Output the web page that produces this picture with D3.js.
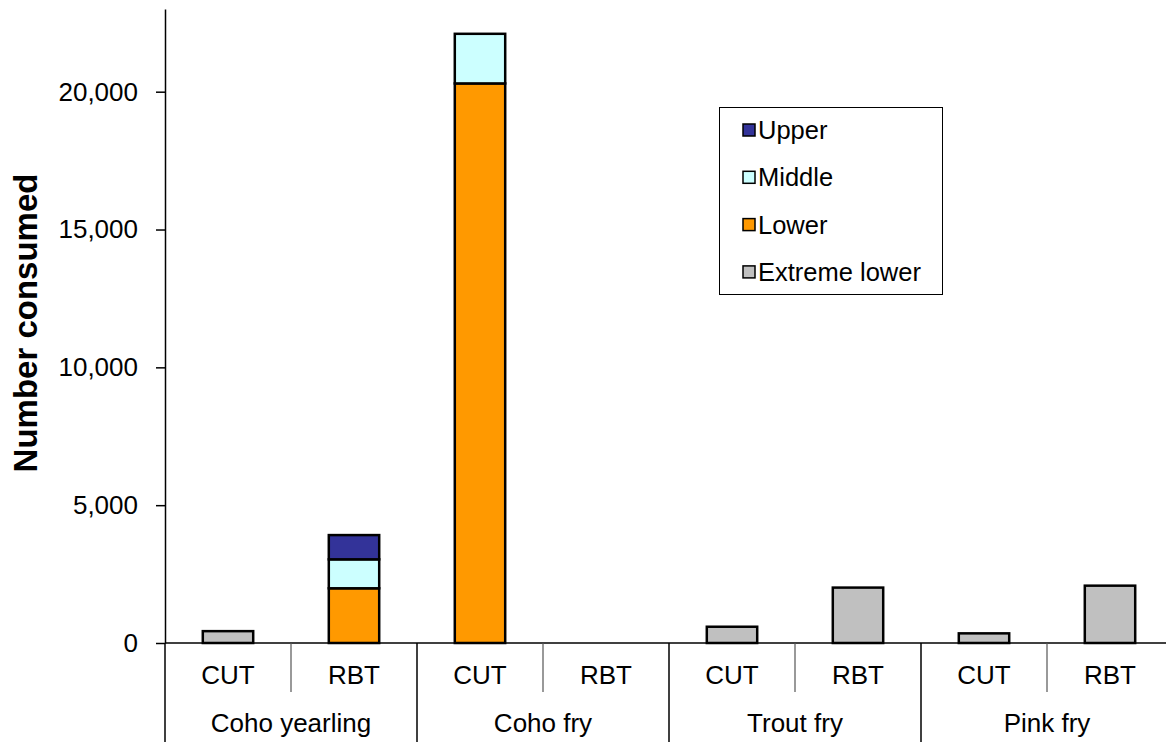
<!DOCTYPE html>
<html>
<head>
<meta charset="utf-8">
<script src="https://cdn.jsdelivr.net/npm/d3@7"></script>
<style>
  body { margin: 0; background: #fff; }
  text { font-family: "Liberation Sans", Arial, sans-serif; }
</style>
</head>
<body>
<div id="chart"></div>
<script>
// data
var groups = ["Coho yearling", "Coho fry", "Trout fry", "Pink fry"];
var species = ["CUT", "RBT"];
var seriesNames = ["Upper", "Middle", "Lower", "Extreme lower"];
var upper        = [0, 880, 0, 0, 0, 0, 0, 0];
var middle       = [0, 1050, 1800, 0, 0, 0, 0, 0];
var lower        = [0, 1985, 20300, 0, 0, 0, 0, 0];
var extremeLower = [430, 0, 0, 0, 590, 2010, 350, 2080];
var yTicks = [0, 5000, 10000, 15000, 20000];

var colors = {
  "Upper": "#333399",
  "Middle": "#ccffff",
  "Lower": "#ff9900",
  "Extreme lower": "#c0c0c0"
};

var width = 1166, height = 742;
var left = 165, right = 1173, zeroY = 643, topY = 9;

var svg = d3.select("#chart").append("svg")
  .attr("width", width)
  .attr("height", height);

// one row per category (group x species)
var rows = [];
groups.forEach(function(g, gi) {
  species.forEach(function(s, si) {
    var i = gi * species.length + si;
    rows.push({
      key: g + "|" + s, group: g, sp: s,
      "Upper": upper[i], "Middle": middle[i],
      "Lower": lower[i], "Extreme lower": extremeLower[i]
    });
  });
});

var xScale = d3.scaleBand()
  .domain(rows.map(function(d) { return d.key; }))
  .range([left, right])
  .paddingInner(0.6)
  .paddingOuter(0.3);

var yScale = d3.scaleLinear()
  .domain([0, 23000])
  .range([zeroY, topY]);

// stack from bottom: extreme lower, lower, middle, upper
var stack = d3.stack().keys(["Extreme lower", "Lower", "Middle", "Upper"]);
var layers = stack(rows);

//////////////////// bars ////////////////////
var layer = svg.selectAll(".layer")
  .data(layers)
  .enter().append("g")
  .attr("class", "layer")
  .attr("fill", function(d) { return colors[d.key]; });

layer.selectAll("rect")
  .data(function(d) { return d.filter(function(v) { return v[1] - v[0] > 0; }); })
  .enter().append("rect")
  .attr("x", function(d) { return xScale(d.data.key); })
  .attr("width", xScale.bandwidth())
  .attr("y", function(d) { return yScale(d[1]); })
  .attr("height", function(d) { return yScale(d[0]) - yScale(d[1]); })
  .attr("stroke", "#000")
  .attr("stroke-width", 2.5);

//////////////////// y axis ////////////////////
var yAxis = svg.append("g")
  .attr("transform", "translate(" + left + ",0)")
  .call(d3.axisLeft(yScale)
    .tickValues(yTicks)
    .tickFormat(d3.format(","))
    .tickSize(9)
    .tickSizeOuter(0)
    .tickPadding(18));

yAxis.select(".domain").attr("stroke", "#000").attr("stroke-width", 1.5);
yAxis.selectAll(".tick line").attr("stroke", "#000").attr("stroke-width", 1.5);
yAxis.selectAll(".tick text")
  .attr("font-size", 26)
  .attr("fill", "#000")
  .style("font-family", "Liberation Sans, Arial, sans-serif");

svg.append("text")
  .attr("transform", "translate(37," + 323 + ") rotate(-90)")
  .attr("text-anchor", "middle")
  .attr("font-size", 33)
  .attr("font-weight", "bold")
  .text("Number consumed");

//////////////////// x axis ////////////////////
svg.append("line")
  .attr("x1", left).attr("x2", right)
  .attr("y1", zeroY).attr("y2", zeroY)
  .attr("stroke", "#000").attr("stroke-width", 1.5);

var step = xScale.step();

// separators between species and groups
d3.range(0, rows.length + 1).forEach(function(i) {
  var isGroup = i % species.length === 0;
  svg.append("line")
    .attr("x1", left + i * step).attr("x2", left + i * step)
    .attr("y1", zeroY).attr("y2", isGroup ? height : 692)
    .attr("stroke", isGroup ? "#000" : "#555")
    .attr("stroke-width", isGroup ? 1.5 : 1.2);
});

svg.selectAll(".spLabel")
  .data(rows)
  .enter().append("text")
  .attr("class", "spLabel")
  .attr("x", function(d) { return xScale(d.key) + xScale.bandwidth() / 2; })
  .attr("y", 684)
  .attr("text-anchor", "middle")
  .attr("font-size", 26)
  .text(function(d) { return d.sp; });

svg.selectAll(".groupLabel")
  .data(groups)
  .enter().append("text")
  .attr("class", "groupLabel")
  .attr("x", function(d, i) { return left + (i + 0.5) * step * species.length; })
  .attr("y", 732)
  .attr("text-anchor", "middle")
  .attr("font-size", 26)
  .text(function(d) { return d; });

//////////////////// legend ////////////////////
var legend = svg.append("g").attr("class", "legend");

legend.append("rect")
  .attr("x", 719.5).attr("y", 107.5)
  .attr("width", 223).attr("height", 187)
  .attr("fill", "#fff")
  .attr("stroke", "#000")
  .attr("stroke-width", 1);

var item = legend.selectAll(".item")
  .data(seriesNames)
  .enter().append("g")
  .attr("class", "item")
  .attr("transform", function(d, i) { return "translate(743," + (130 + i * 47.3) + ")"; });

item.append("rect")
  .attr("x", 0).attr("y", -6)
  .attr("width", 12).attr("height", 12)
  .attr("fill", function(d) { return colors[d]; })
  .attr("stroke", "#000")
  .attr("stroke-width", 1.5);

item.append("text")
  .attr("x", 15)
  .attr("y", 9)
  .attr("font-size", 25.5)
  .text(function(d) { return d; });
</script>
</body>
</html>
